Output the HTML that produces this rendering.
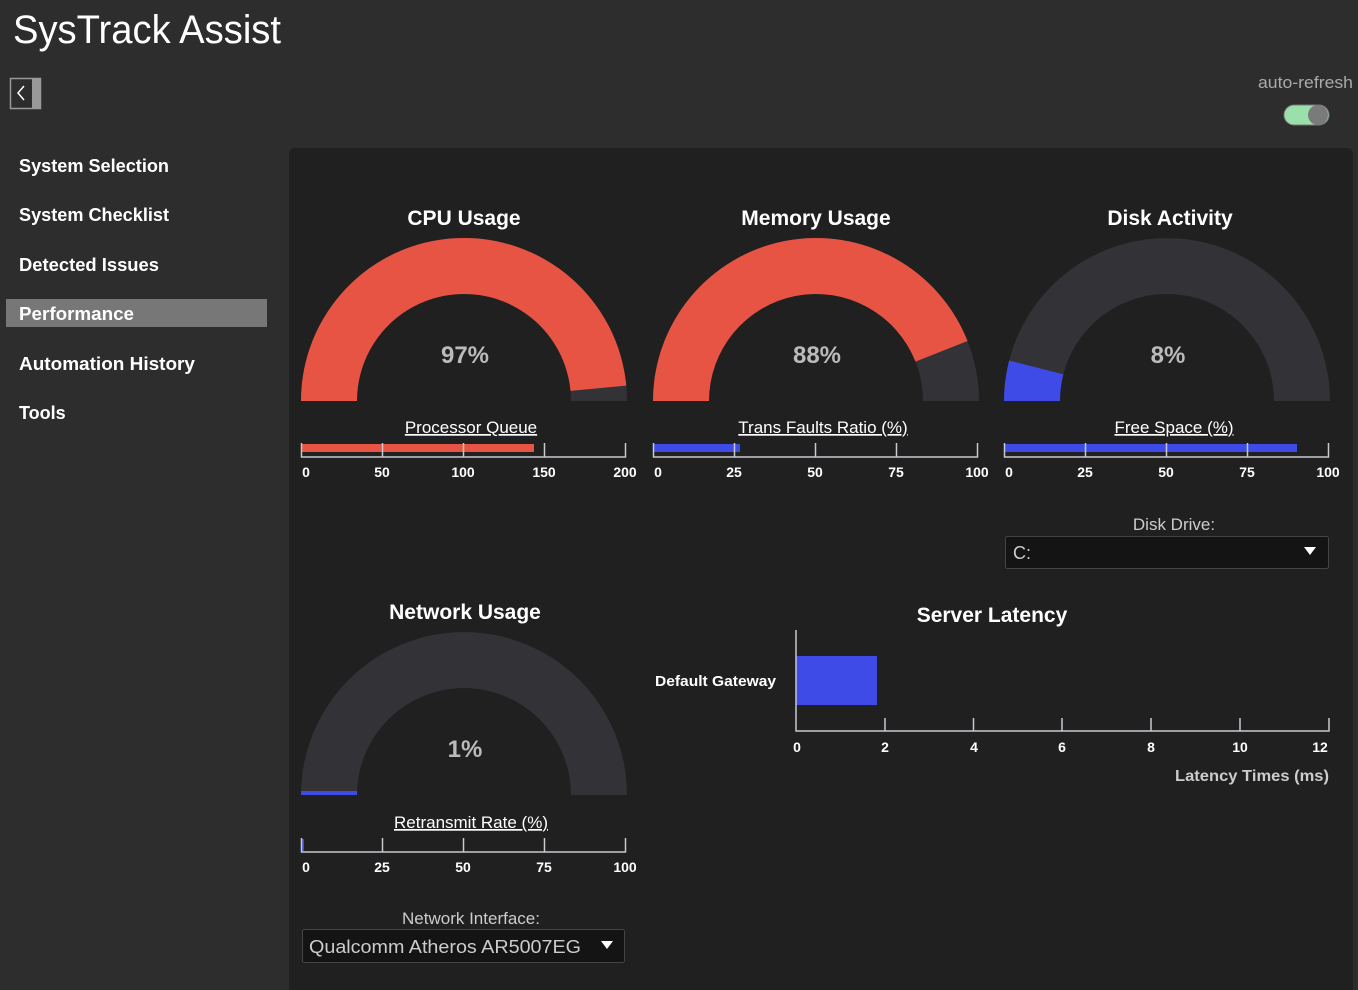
<!DOCTYPE html>
<html><head><meta charset="utf-8"><style>
html,body{margin:0;padding:0;background:#2d2d2d;width:1358px;height:990px;overflow:hidden;font-family:"Liberation Sans",sans-serif}
svg{position:absolute;left:0;top:0}
</style></head><body>
<svg width="1358" height="990" viewBox="0 0 1358 990" xmlns="http://www.w3.org/2000/svg" font-family="Liberation Sans, sans-serif">
<rect x="0" y="0" width="1358" height="990" fill="#2d2d2d"/>
<text x="13" y="43" font-size="40" fill="#ffffff" textLength="268" lengthAdjust="spacingAndGlyphs">SysTrack Assist</text>
<rect x="10.5" y="78.5" width="30" height="30" fill="none" stroke="#999" stroke-width="1.5"/>
<rect x="32" y="79" width="8" height="29" fill="#999"/>
<path d="M24 86 L18 93 L24 100" fill="none" stroke="#fff" stroke-width="1.5"/>
<text x="1353" y="88" font-size="17" fill="#aaa" text-anchor="end" textLength="95" lengthAdjust="spacingAndGlyphs">auto-refresh</text>
<rect x="1284" y="105" width="45" height="20" rx="10" fill="#9bdfaa" stroke="#777"/>
<circle cx="1318" cy="115" r="10" fill="#7a7a7a"/>
<rect x="6" y="299" width="261" height="28" fill="#777"/>
<g font-size="18" font-weight="bold" fill="#fff">
<text x="19" y="172" textLength="150" lengthAdjust="spacingAndGlyphs">System Selection</text>
<text x="19" y="221" textLength="150" lengthAdjust="spacingAndGlyphs">System Checklist</text>
<text x="19" y="271" textLength="140" lengthAdjust="spacingAndGlyphs">Detected Issues</text>
<text x="19" y="320" textLength="115" lengthAdjust="spacingAndGlyphs">Performance</text>
<text x="19" y="370" textLength="176" lengthAdjust="spacingAndGlyphs">Automation History</text>
<text x="19" y="419">Tools</text>
</g>
<rect x="289" y="148" width="1064" height="860" rx="6" fill="#202020"/>
<g font-size="21" font-weight="bold" fill="#fff" text-anchor="middle">
<text x="464" y="225">CPU Usage</text>
<text x="816" y="225">Memory Usage</text>
<text x="1170" y="225">Disk Activity</text>
<text x="465" y="619">Network Usage</text>
<text x="992" y="622">Server Latency</text>
</g>
<path d="M301,401 A163,163 0 0 1 627,401 L571,401 A107,107 0 0 0 357,401Z" fill="#333237"/>
<path d="M301,401 A163,163 0 0 1 626.28,385.66 L570.53,390.93 A107,107 0 0 0 357,401Z" fill="#e85444"/>
<path d="M653,401 A163,163 0 0 1 979,401 L923,401 A107,107 0 0 0 709,401Z" fill="#333237"/>
<path d="M653,401 A163,163 0 0 1 967.55,341 L915.49,361.61 A107,107 0 0 0 709,401Z" fill="#e85444"/>
<path d="M1004,401 A163,163 0 0 1 1330,401 L1274,401 A107,107 0 0 0 1060,401Z" fill="#333237"/>
<path d="M1004,401 A163,163 0 0 1 1009.12,360.46 L1063.36,374.39 A107,107 0 0 0 1060,401Z" fill="#3f4be6"/>
<path d="M301,795 A163,163 0 0 1 627,795 L571,795 A107,107 0 0 0 357,795Z" fill="#333237"/>
<rect x="301" y="791" width="56" height="4" fill="#3f4be6"/>
<g font-size="24" font-weight="bold" fill="#bbb" text-anchor="middle">
<text x="465" y="363">97%</text>
<text x="817" y="363">88%</text>
<text x="1168" y="363">8%</text>
<text x="465" y="757">1%</text>
</g>
<g font-size="17" fill="#fff" text-anchor="middle" text-decoration="underline">
<text x="471" y="433">Processor Queue</text>
<text x="823" y="433">Trans Faults Ratio (%)</text>
<text x="1174" y="433">Free Space (%)</text>
<text x="471" y="828">Retransmit Rate (%)</text>
</g>
<rect x="302" y="444" width="232" height="8" fill="#e85444"/>
<rect x="654" y="444" width="86" height="8" fill="#3f4be6"/>
<rect x="1005" y="444" width="292" height="8" fill="#3f4be6"/>
<rect x="302" y="839" width="2" height="12" fill="#3f4be6"/>
<g stroke="#c8c8d0" stroke-width="1.5" fill="none">
<path d="M301.5,443 V457 H625.5 V443 M382.5,443 V457 M463.5,443 V457 M544.5,443 V457"/>
<path d="M653.5,443 V457 H977.5 V443 M734.5,443 V457 M815.5,443 V457 M896.5,443 V457"/>
<path d="M1004.5,443 V457 H1328.5 V443 M1085.5,443 V457 M1166.5,443 V457 M1247.5,443 V457"/>
<path d="M301.5,838 V852 H625.5 V838 M382.5,838 V852 M463.5,838 V852 M544.5,838 V852"/>
</g>
<g font-size="14" font-weight="bold" fill="#fff" text-anchor="middle">
<text x="306" y="477">0</text><text x="382" y="477">50</text><text x="463" y="477">100</text><text x="544" y="477">150</text><text x="625" y="477">200</text>
<text x="658" y="477">0</text><text x="734" y="477">25</text><text x="815" y="477">50</text><text x="896" y="477">75</text><text x="977" y="477">100</text>
<text x="1009" y="477">0</text><text x="1085" y="477">25</text><text x="1166" y="477">50</text><text x="1247" y="477">75</text><text x="1328" y="477">100</text>
<text x="306" y="872">0</text><text x="382" y="872">25</text><text x="463" y="872">50</text><text x="544" y="872">75</text><text x="625" y="872">100</text>
</g>
<text x="1174" y="530" font-size="17" fill="#ccc" text-anchor="middle">Disk Drive:</text>
<rect x="1005.5" y="536.5" width="323" height="32" rx="2" fill="#141414" stroke="#444"/>
<text x="1013" y="559" font-size="18" fill="#ccc">C:</text>
<path d="M1304,547 L1316,547 L1310,555Z" fill="#fff"/>
<text x="471" y="924" font-size="17" fill="#ccc" text-anchor="middle">Network Interface:</text>
<rect x="302.5" y="929.5" width="322" height="33" rx="2" fill="#141414" stroke="#444"/>
<text x="309" y="953" font-size="18" fill="#ccc" textLength="272" lengthAdjust="spacingAndGlyphs">Qualcomm Atheros AR5007EG</text>
<path d="M601,941 L613,941 L607,949Z" fill="#fff"/>
<rect x="796" y="656" width="81" height="49" fill="#3f4be6"/>
<g stroke="#c8c8d0" stroke-width="1.5" fill="none">
<path d="M796,630 V731 H1329 V718 M885,718 V731 M973.5,718 V731 M1062,718 V731 M1151,718 V731 M1240,718 V731"/>
</g>
<text x="776" y="686" font-size="15" font-weight="bold" fill="#fff" text-anchor="end" textLength="121" lengthAdjust="spacingAndGlyphs">Default Gateway</text>
<g font-size="14" font-weight="bold" fill="#fff" text-anchor="middle">
<text x="797" y="752">0</text><text x="885" y="752">2</text><text x="974" y="752">4</text><text x="1062" y="752">6</text><text x="1151" y="752">8</text><text x="1240" y="752">10</text><text x="1320" y="752">12</text>
</g>
<text x="1329" y="781" font-size="16" font-weight="bold" fill="#ccc" text-anchor="end" textLength="154" lengthAdjust="spacingAndGlyphs">Latency Times (ms)</text>
</svg>
</body></html>
